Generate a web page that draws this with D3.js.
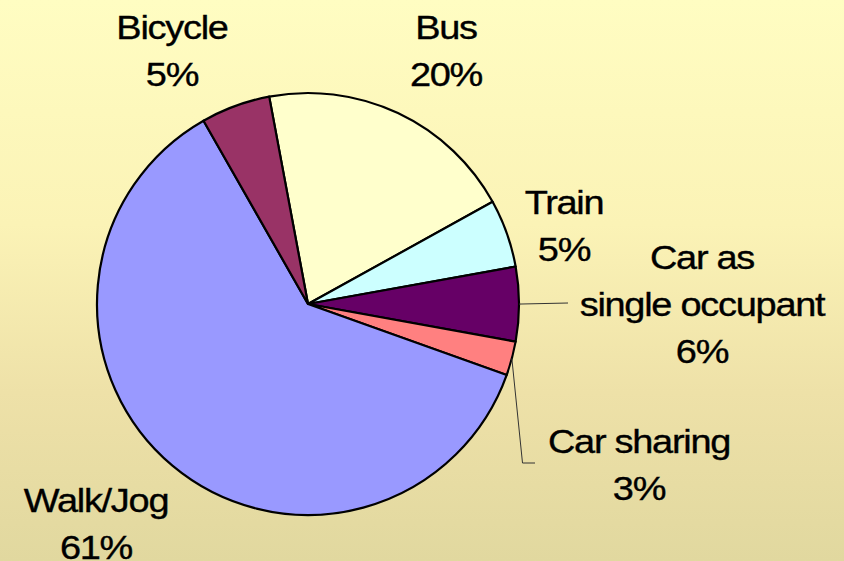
<!DOCTYPE html>
<html>
<head>
<meta charset="utf-8">
<script src="https://cdn.jsdelivr.net/npm/d3@7"></script>
<style>
  html, body { margin: 0; padding: 0; overflow: hidden; }
  text { font-family: "Liberation Sans", Arial, sans-serif; }
</style>
</head>
<body>
<div id="chart"></div>
<script>
// Data (clockwise order starting at the Bus slice)
const categories = ['Bus', 'Train', 'Car as single occupant', 'Car sharing', 'Walk/Jog', 'Bicycle'];
const shares = [19.9, 5.2, 5.7, 2.6, 61.3, 5.3];
const colors = ['#FFFFCC', '#CCFFFF', '#660066', '#FF8080', '#9999FF', '#993366'];
// label text lines (the name part), percentages are appended from the data
const labelLines = [['Bus'], ['Train'], ['Car as', 'single occupant'], ['Car sharing'], ['Walk/Jog'], ['Bicycle']];

const width = 844;
const height = 561;
const cx = 308, cy = 304, radius = 211;

// label anchors: centre x and first baseline
const labelPos = [
  { x: 446, y: 39 },
  { x: 564, y: 214 },
  { x: 702, y: 269 },
  { x: 639, y: 453 },
  { x: 96, y: 512 },
  { x: 172, y: 39 }
];
const lineHeight = 47;

const svg = d3.select('#chart')
  .append('svg')
  .attr('width', width)
  .attr('height', height);

// background gradient
const defs = svg.append('defs');
const grad = defs.append('linearGradient')
  .attr('id', 'bg')
  .attr('x1', 0).attr('y1', 0).attr('x2', 0).attr('y2', 1);
grad.append('stop').attr('offset', '0%').attr('stop-color', '#FFFDC2');
grad.append('stop').attr('offset', '40%').attr('stop-color', '#FBF3B6');
grad.append('stop').attr('offset', '70%').attr('stop-color', '#EEE1A8');
grad.append('stop').attr('offset', '100%').attr('stop-color', '#E1D89F');

svg.append('rect')
  .attr('width', width)
  .attr('height', height)
  .attr('fill', 'url(#bg)');

const pie = d3.pie()
  .sort(null)
  .value((d) => d)
  .startAngle(-10.6 * Math.PI / 180)
  .endAngle(-10.6 * Math.PI / 180 + 2 * Math.PI);

const arcs = pie(shares);

const arc = d3.arc()
  .innerRadius(0)
  .outerRadius(radius);

const g = svg.append('g')
  .attr('transform', `translate(${cx},${cy})`);

g.selectAll('.slice')
  .data(arcs)
  .enter()
  .append('path')
  .attr('class', 'slice')
  .attr('d', arc)
  .attr('fill', (_, i) => colors[i])
  .attr('stroke', '#000')
  .attr('stroke-width', 2.2)
  .attr('stroke-linejoin', 'round');

// leader lines for the two small car slices
const edgePoint = (d) => {
  const a = (d.startAngle + d.endAngle) / 2;
  return [cx + radius * Math.sin(a), cy - radius * Math.cos(a)];
};

const leaders = [
  { i: 2, to: [[568, 303]] },
  { i: 3, to: [[522.5, 463], [535, 463]] }
];

leaders.forEach((l) => {
  const pts = [edgePoint(arcs[l.i])].concat(l.to);
  svg.append('path')
    .attr('d', d3.line()(pts))
    .attr('fill', 'none')
    .attr('stroke', '#333')
    .attr('stroke-width', 1);
});

// labels
const labels = svg.selectAll('.label')
  .data(arcs)
  .enter()
  .append('g')
  .attr('class', 'label')
  .attr('transform', (_, i) => `translate(${labelPos[i].x},${labelPos[i].y}) scale(1.15,1)`);

labels.each(function (d, i) {
  const lines = labelLines[i].concat([Math.round(d.data) + '%']);
  const t = d3.select(this).append('text')
    .attr('text-anchor', 'middle')
    .attr('font-size', 33)
    .attr('letter-spacing', '-1.1px')
    .attr('fill', '#000')
    .attr('stroke', '#000')
    .attr('stroke-width', 0.35);
  lines.forEach((s, k) => {
    t.append('tspan')
      .attr('x', 0)
      .attr('y', k * lineHeight)
      .text(s);
  });
});
</script>
</body>
</html>
